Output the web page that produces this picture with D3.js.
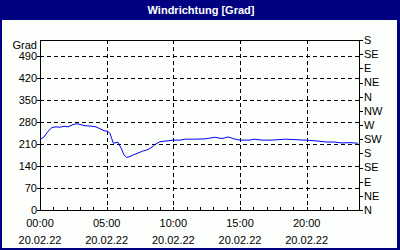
<!DOCTYPE html>
<html lang="de">
<head>
<meta charset="UTF-8">
<title>Windrichtung</title>
<script src="https://d3js.org/d3.v7.min.js"></script>
<style>
  body { margin: 0; background: #fff; }
  svg { display: block; font-family: "Liberation Sans", Arial, sans-serif; }
  .lbl { font-size: 11px; fill: #000; }
</style>
</head>
<body>
<svg width="400" height="250"></svg>
<script>
// Stunden seit 20.02.22 00:00 und Windrichtung in Grad
var hours = [0.05, 0.3, 0.6, 0.9, 1.2, 1.5, 1.8, 2.1, 2.4, 2.7, 3.0, 3.3, 3.6, 3.9, 4.2, 4.5, 4.8, 5.1,
  5.25, 5.5, 5.7, 5.85, 6.1, 6.3, 6.5, 6.75, 7.0, 7.35, 7.7, 8.1, 8.4, 8.7, 9.0, 9.45, 10.0, 10.5,
  10.9, 11.6, 12.4, 13.1, 13.65, 14.1, 14.55, 15.0, 15.75, 16.05, 16.65, 17.4, 18.4, 19.35, 20.25,
  20.85, 21.45, 22.05, 22.65, 23.25, 23.85];
var grad = [225, 232, 250, 262, 264, 263, 266, 264, 270, 274, 272, 268, 267, 266, 264, 258, 252, 250,
  243, 212, 214, 215, 195, 175, 167, 170, 175, 181, 187, 192, 200, 210, 217, 219, 222, 222,
  225, 225, 226, 231, 227, 232, 226, 222, 222, 225, 222, 222, 225, 223, 221,
  219, 216, 216, 213, 214, 212];

var leftTicks = [0, 70, 140, 210, 280, 350, 420, 490];
var rightTicks = [0, 45, 90, 135, 180, 225, 270, 315, 360, 405, 450, 495, 540];
var rightNames = ["N", "NE", "E", "SE", "S", "SW", "W", "NW", "N", "NE", "E", "SE", "S"];
var timeTicks = [0, 5, 10, 15, 20];
var timeNames = ["00:00", "05:00", "10:00", "15:00", "20:00"];
var dateName = "20.02.22";

var svg = d3.select("svg");
var W = 400, H = 250;
var L = 40, R = 359, T = 40, B = 210;

// Rahmen und Titel
svg.append("rect").attr("width", W).attr("height", H).attr("fill", "#000080");
svg.append("rect").attr("x", 2).attr("y", 20).attr("width", W - 5).attr("height", H - 22).attr("fill", "#fcfffc");
svg.append("text").attr("x", 201).attr("y", 14).attr("text-anchor", "middle")
  .attr("font-size", "11px").attr("font-weight", "bold").attr("fill", "#fff")
  .text("Windrichtung [Grad]");

var x = d3.scaleLinear().domain([0, 24]).range([L, L + 320]);
var y = d3.scaleLinear().domain([0, 540]).range([B, T]);

var g = svg.append("g").attr("shape-rendering", "crispEdges");

// Gitter
g.selectAll(".hg").data(leftTicks.filter(d => d > 0)).join("line")
  .attr("x1", L).attr("x2", R).attr("y1", d => Math.round(y(d)) + 0.5).attr("y2", d => Math.round(y(d)) + 0.5)
  .attr("stroke", "#000").attr("stroke-dasharray", "4,3");
g.selectAll(".vg").data(timeTicks.filter(d => d > 0)).join("line")
  .attr("x1", d => Math.round(x(d)) + 0.5).attr("x2", d => Math.round(x(d)) + 0.5).attr("y1", T).attr("y2", B)
  .attr("stroke", "#000").attr("stroke-dasharray", "4,3");

// Linie
var pts = hours.map((h, i) => [h, grad[i]]);
svg.append("path").datum(pts)
  .attr("fill", "none").attr("stroke", "#0000ff").attr("stroke-width", 1)
  .attr("d", d3.line().x(d => x(d[0])).y(d => y(d[1])));

// Achsen
g.append("rect").attr("x", L + 0.5).attr("y", T + 0.5).attr("width", R - L).attr("height", B - T)
  .attr("fill", "none").attr("stroke", "#000");

// linke Achse
g.selectAll(".lt").data(leftTicks).join("line")
  .attr("x1", L - 3).attr("x2", L).attr("y1", d => Math.round(y(d)) + 0.5).attr("y2", d => Math.round(y(d)) + 0.5)
  .attr("stroke", "#000");
svg.selectAll(".ll").data(leftTicks).join("text").attr("class", "lbl")
  .attr("x", 37).attr("y", d => y(d)).attr("dy", "0.36em").attr("text-anchor", "end")
  .text(d => d);
svg.append("text").attr("class", "lbl").attr("x", 37).attr("y", 49).attr("text-anchor", "end").text("Grad");

// rechte Achse
g.selectAll(".rt").data(rightTicks).join("line")
  .attr("x1", R).attr("x2", R + 4).attr("y1", d => Math.round(y(d)) + 0.5).attr("y2", d => Math.round(y(d)) + 0.5)
  .attr("stroke", "#000");
svg.selectAll(".rl").data(rightTicks).join("text").attr("class", "lbl")
  .attr("x", R + 5).attr("y", d => y(d)).attr("dy", "0.36em")
  .text((d, i) => rightNames[i]);

// Zeitachse
g.selectAll(".xt").data(d3.range(0, 24)).join("line")
  .attr("x1", d => Math.round(x(d)) + 0.5).attr("x2", d => Math.round(x(d)) + 0.5)
  .attr("y1", B - 3).attr("y2", B).attr("stroke", "#000");
svg.selectAll(".xl").data(timeTicks).join("text").attr("class", "lbl")
  .attr("x", d => x(d)).attr("y", 227).attr("text-anchor", "middle")
  .text((d, i) => timeNames[i]);
svg.selectAll(".xd").data(timeTicks).join("text").attr("class", "lbl")
  .attr("x", d => x(d)).attr("y", 244).attr("text-anchor", "middle")
  .text(dateName);
</script>
</body>
</html>
